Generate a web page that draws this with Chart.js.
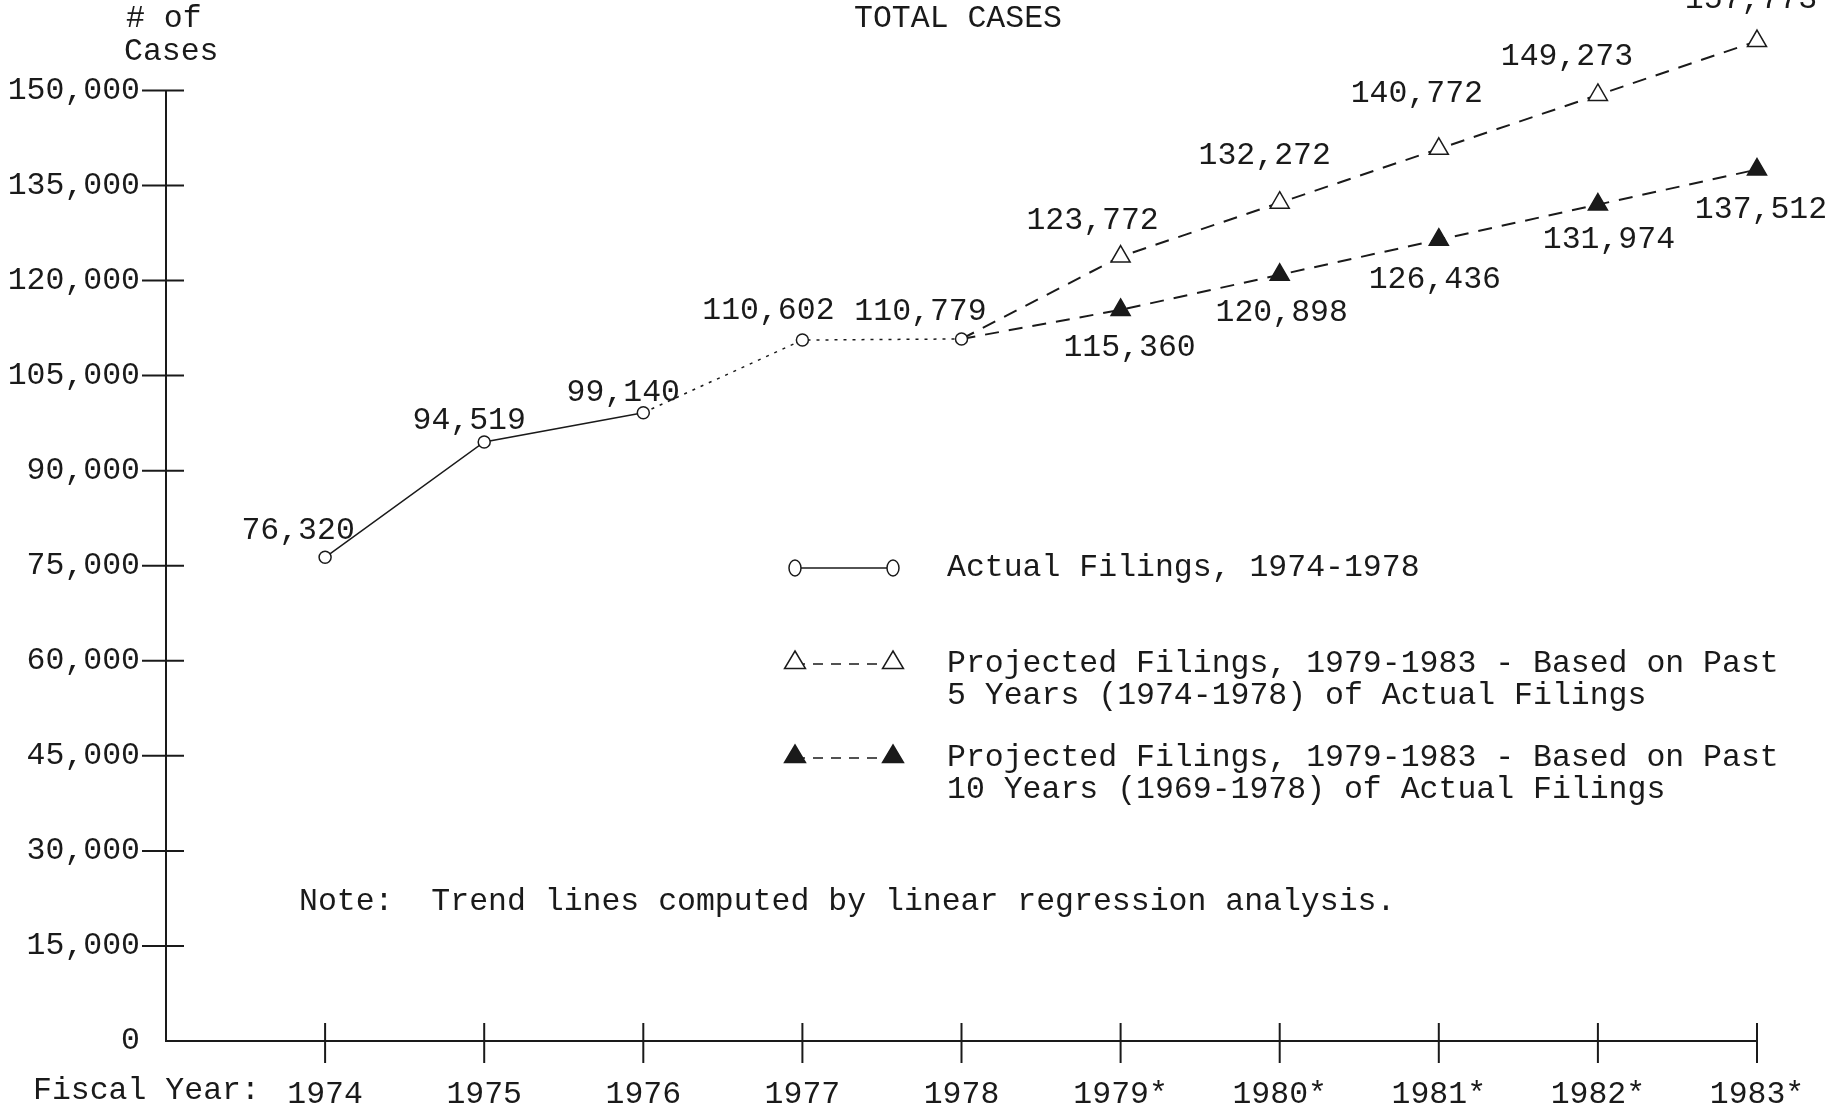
<!DOCTYPE html>
<html>
<head>
<meta charset="utf-8">
<script src="https://cdn.jsdelivr.net/npm/chart.js@4"></script>
<style>
  html, body { margin: 0; padding: 0; background: #fff; }
  canvas { display: block; }
</style>
</head>
<body>
<canvas id="casesChart" width="1843" height="1104"></canvas>
<script>
// Data
const years = [1974, 1975, 1976, 1977, 1978, 1979, 1980, 1981, 1982, 1983];
const xTickLabels = ['1974', '1975', '1976', '1977', '1978', '1979*', '1980*', '1981*', '1982*', '1983*'];
const actualFilings = [76320, 94519, 99140, 110602, 110779, null, null, null, null, null];
const projected5yr = [null, null, null, null, 110779, 123772, 132272, 140772, 149273, 157773];
const projected10yr = [null, null, null, null, 110779, 115360, 120898, 126436, 131974, 137512];
const yTicks = [0, 15000, 30000, 45000, 60000, 75000, 90000, 105000, 120000, 135000, 150000];

const FONT = "'Liberation Mono', 'DejaVu Sans Mono', monospace";
const INK = '#1a1a1a';
const FS = 31.5;

const toPoints = arr => years.map((y, i) => ({ x: y, y: arr[i] }));

// where each value label sits relative to its point (layout only)
const labelOffsets = [
  [[-27, -27], [-15, -21], [-20, -20], [-34, -29], [-41, -27]],
  [null, null, null, null, null, [-28, -36], [-15, -47], [-22, -55], [-31, -38], [-6, -41]],
  [null, null, null, null, null, [9, 38], [2, 38], [-4, 40], [11, 35], [4, 40]]
];

// draws value labels, axis ticks, legend, titles
const decorations = {
  id: 'decorations',
  afterDraw(chart) {
    const c = chart.ctx;
    const xs = chart.scales.x, ys = chart.scales.y;
    c.save();
    c.strokeStyle = INK;
    c.fillStyle = INK;
    c.lineWidth = 2;

    const axisY = ys.getPixelForValue(0);
    const axisX = xs.getPixelForValue(1973);
    // y axis line up to 150,000
    c.beginPath();
    c.moveTo(axisX, axisY);
    c.lineTo(axisX, ys.getPixelForValue(yTicks[yTicks.length - 1]));
    c.stroke();

    // x ticks crossing the axis
    years.forEach(yr => {
      const px = xs.getPixelForValue(yr);
      c.beginPath();
      c.moveTo(px, axisY - 18);
      c.lineTo(px, axisY + 22);
      c.stroke();
    });
    // y ticks
    yTicks.forEach(v => {
      if (v === 0) return;
      const py = ys.getPixelForValue(v);
      c.beginPath();
      c.moveTo(axisX - 24, py);
      c.lineTo(axisX + 18, py);
      c.stroke();
    });

    c.font = FS + 'px ' + FONT;
    c.textBaseline = 'middle';

    // value labels
    chart.data.datasets.forEach((ds, di) => {
      const meta = chart.getDatasetMeta(di);
      ds.data.forEach((p, i) => {
        const off = labelOffsets[di][i];
        if (p.y == null || !off) return;
        const el = meta.data[i];
        c.textAlign = 'center';
        c.fillText(p.y.toLocaleString('en-US'), el.x + off[0], el.y + off[1]);
      });
    });

    // titles
    c.textAlign = 'center';
    c.fillText('TOTAL CASES', 958, 19);
    c.textAlign = 'left';
    c.fillText('# of', 126, 19);
    c.fillText('Cases', 124, 52);
    c.fillText('Fiscal Year:', 33, 1091);
    c.fillText('Note:  Trend lines computed by linear regression analysis.', 299, 902);

    // legend
    const lx1 = 795, lx2 = 893, tx = 947;
    c.lineWidth = 1.5;
    c.beginPath(); c.moveTo(lx1, 568); c.lineTo(lx2, 568); c.stroke();
    [lx1, lx2].forEach(x => {
      c.beginPath(); c.ellipse(x, 568, 6, 8, 0, 0, Math.PI * 2);
      c.fillStyle = '#fff'; c.fill(); c.stroke();
    });
    c.fillStyle = INK;
    c.fillText('Actual Filings, 1974-1978', tx, 568);
    const tri = (x, y, r, filled) => {
      c.beginPath();
      c.moveTo(x, y - r);
      c.lineTo(x + r * 0.95, y + r * 0.6);
      c.lineTo(x - r * 0.95, y + r * 0.6);
      c.closePath();
      c.fillStyle = filled ? INK : '#fff';
      c.fill(); c.stroke();
      c.fillStyle = INK;
    };
    c.setLineDash([10, 8]);
    c.beginPath(); c.moveTo(lx1, 664); c.lineTo(lx2, 664); c.stroke();
    c.beginPath(); c.moveTo(lx1, 758); c.lineTo(lx2, 758); c.stroke();
    c.setLineDash([]);
    tri(lx1, 662, 11, false); tri(lx2, 662, 11, false);
    tri(lx1, 756, 11, true); tri(lx2, 756, 11, true);
    c.fillText('Projected Filings, 1979-1983 - Based on Past', tx, 664);
    c.fillText('5 Years (1974-1978) of Actual Filings', tx, 696);
    c.fillText('Projected Filings, 1979-1983 - Based on Past', tx, 758);
    c.fillText('10 Years (1969-1978) of Actual Filings', tx, 790);
    c.restore();
  }
};

const ctx = document.getElementById('casesChart').getContext('2d');
new Chart(ctx, {
  type: 'line',
  data: {
    datasets: [
      {
        label: 'Actual Filings, 1974-1978',
        data: toPoints(actualFilings),
        borderColor: INK,
        borderWidth: 1.5,
        pointStyle: 'circle',
        pointRadius: 6,
        pointBorderWidth: 1.5,
        pointBackgroundColor: '#fff',
        pointBorderColor: INK,
        segment: {
          borderDash: s => s.p0DataIndex >= 2 ? [3, 6] : undefined
        },
        clip: false
      },
      {
        label: 'Projected Filings - 5 Years',
        data: toPoints(projected5yr),
        borderColor: INK,
        borderWidth: 2,
        borderDash: [14, 10],
        pointStyle: 'triangle',
        pointRadius: c => c.dataIndex <= 4 ? 0 : 11,
        pointBorderWidth: 1.5,
        pointBackgroundColor: '#fff',
        pointBorderColor: INK,
        clip: false
      },
      {
        label: 'Projected Filings - 10 Years',
        data: toPoints(projected10yr),
        borderColor: INK,
        borderWidth: 2,
        borderDash: [14, 10],
        pointStyle: 'triangle',
        pointRadius: c => c.dataIndex <= 4 ? 0 : 11,
        pointBorderWidth: 1.5,
        pointBackgroundColor: INK,
        pointBorderColor: INK,
        clip: false
      }
    ]
  },
  options: {
    responsive: false,
    animation: false,
    layout: { padding: { top: 27, right: 86, left: 0, bottom: 0 } },
    plugins: {
      legend: { display: false },
      tooltip: { enabled: false }
    },
    scales: {
      x: {
        type: 'linear',
        min: 1973,
        max: 1983,
        afterFit: s => { s.height = 63; s.paddingLeft = 0; s.paddingRight = 0; },
        afterBuildTicks: s => { s.ticks = years.map(v => ({ value: v })); },
        grid: { display: false, drawTicks: false },
        border: { display: true, color: INK, width: 2 },
        ticks: {
          padding: 35,
          color: INK,
          font: { family: FONT, size: FS },
          maxRotation: 0,
          callback: v => xTickLabels[years.indexOf(v)] || ''
        }
      },
      y: {
        min: 0,
        max: 160000,
        afterFit: s => { s.width = 166; s.paddingTop = 0; s.paddingBottom = 0; },
        afterBuildTicks: s => { s.ticks = yTicks.map(v => ({ value: v })); },
        grid: { display: false, drawTicks: false },
        border: { display: false },
        ticks: {
          padding: 26,
          color: INK,
          font: { family: FONT, size: FS },
          callback: v => v.toLocaleString('en-US')
        }
      }
    }
  },
  plugins: [decorations]
});
</script>
</body>
</html>
